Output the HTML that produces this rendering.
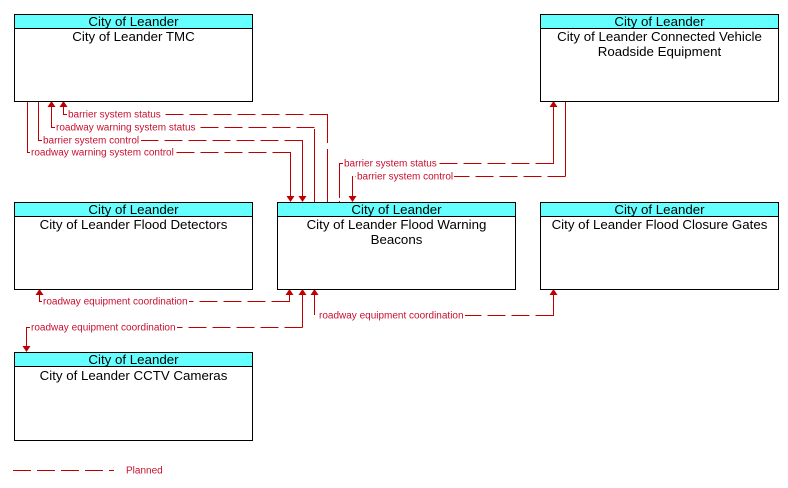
<!DOCTYPE html>
<html>
<head>
<meta charset="utf-8">
<style>
html,body{margin:0;padding:0;background:#fff;}
svg{display:block;}
.bx{fill:#fff;stroke:#000;stroke-width:1;}
.hd{fill:#66ffff;stroke:#000;stroke-width:1;}
.ht{font-family:"Liberation Sans",Arial,sans-serif;font-size:13.3px;fill:#000;text-anchor:middle;}
.ln{fill:none;stroke:#c00000;stroke-width:1;stroke-dasharray:18,6;}
.sl{fill:none;stroke:#c00000;stroke-width:1;}
.lb{font-family:"Liberation Sans",Arial,sans-serif;font-size:10px;fill:#c8102e;}
.ar{fill:#c00000;}
</style>
</head>
<body>
<svg width="788" height="488" viewBox="0 0 788 488" xmlns="http://www.w3.org/2000/svg">
<rect x="0" y="0" width="788" height="488" fill="#fff"/>

<g>
<!-- roadway warning system control -->
<path class="sl" d="M27.5,101 V152.5 H31"/>
<path class="ln" d="M290.5,152.5 H27.5"/>
<path class="sl" d="M290.5,152 V196"/>
<rect x="30" y="147" width="145" height="11" fill="#fff"/>
<text class="lb" x="31" y="155.5">roadway warning system control</text>
<polygon class="ar" points="286.5,196 294.5,196 290.5,202"/>

<!-- barrier system control -->
<path class="sl" d="M38.5,101 V140.5 H43"/>
<path class="ln" d="M302.5,140.5 H38.5"/>
<path class="sl" d="M302.5,140 V196"/>
<rect x="42" y="135" width="99" height="11" fill="#fff"/>
<text class="lb" x="43" y="143.5">barrier system control</text>
<polygon class="ar" points="298.5,196 306.5,196 302.5,202"/>

<!-- roadway warning system status -->
<path class="sl" d="M51.5,107 V127.5 H56"/>
<path class="ln" d="M314.5,127.5 H51.5"/>
<path class="sl" d="M314.5,129 V202"/>
<rect x="55" y="122" width="142" height="11" fill="#fff"/>
<text class="lb" x="56" y="130.5">roadway warning system status</text>
<polygon class="ar" points="47.5,107 55.5,107 51.5,101"/>

<!-- barrier system status -->
<path class="sl" d="M63.5,107 V114.5 H68"/>
<path class="ln" d="M327.5,114.5 H63.5"/>
<path class="sl" d="M327.5,114 V143 M327.5,149 V202"/>
<rect x="67" y="109" width="95" height="11" fill="#fff"/>
<text class="lb" x="68" y="117.5">barrier system status</text>
<polygon class="ar" points="59.5,107 67.5,107 63.5,101"/>

<!-- CV barrier system status -->
<path class="sl" d="M339.5,198 V163.5 H344 M339.5,201 V202"/>
<path class="ln" d="M553.5,163.5 H339.5"/>
<path class="sl" d="M553.5,164 V107"/>
<rect x="343" y="158" width="95" height="11" fill="#fff"/>
<text class="lb" x="344" y="166.5">barrier system status</text>
<polygon class="ar" points="549.5,107 557.5,107 553.5,101"/>

<!-- CV barrier system control -->
<path class="sl" d="M565.5,101 V176.5"/>
<path class="ln" d="M565.5,176.5 H352.5"/>
<path class="sl" d="M352.5,176 V196"/>
<rect x="356" y="171" width="98" height="11" fill="#fff"/>
<text class="lb" x="357" y="179.5">barrier system control</text>
<polygon class="ar" points="348.5,196 356.5,196 352.5,202"/>

<!-- Detectors coordination -->
<path class="sl" d="M39.5,295 V301.5 H43"/>
<path class="ln" d="M289.5,301.5 H39.5"/>
<path class="sl" d="M289.5,302 V295"/>
<rect x="42" y="296" width="147" height="11" fill="#fff"/>
<text class="lb" x="43" y="304.5">roadway equipment coordination</text>
<polygon class="ar" points="35.5,295 43.5,295 39.5,289"/>
<polygon class="ar" points="285.5,295 293.5,295 289.5,289"/>

<!-- CCTV coordination -->
<path class="sl" d="M302.5,295 V327.5"/>
<path class="ln" d="M302.5,327.5 H26.5"/>
<path class="sl" d="M26.5,327 V346 M26.5,327.5 H31"/>
<rect x="30" y="322" width="147" height="11" fill="#fff"/>
<text class="lb" x="31" y="330.5">roadway equipment coordination</text>
<polygon class="ar" points="298.5,295 306.5,295 302.5,289"/>
<polygon class="ar" points="22.5,346 30.5,346 26.5,352"/>

<!-- Gates coordination -->
<path class="sl" d="M314.5,295 V315"/>
<path class="ln" d="M553.5,315.5 H314.5"/>
<path class="sl" d="M553.5,316 V295"/>
<rect x="318" y="310" width="147" height="11" fill="#fff"/>
<text class="lb" x="319" y="318.5">roadway equipment coordination</text>
<polygon class="ar" points="310.5,295 318.5,295 314.5,289"/>
<polygon class="ar" points="549.5,295 557.5,295 553.5,289"/>
</g>

<!-- TMC -->
<rect class="bx" x="14.5" y="14.5" width="238" height="87"/>
<rect class="hd" x="14.5" y="14.5" width="238" height="14"/>
<text class="ht" x="133.5" y="26">City of Leander</text>
<text class="ht" x="133.5" y="41">City of Leander TMC</text>

<!-- CV Roadside -->
<rect class="bx" x="540.5" y="14.5" width="238" height="87"/>
<rect class="hd" x="540.5" y="14.5" width="238" height="14"/>
<text class="ht" x="659.5" y="26">City of Leander</text>
<text class="ht" x="659.5" y="41">City of Leander Connected Vehicle</text>
<text class="ht" x="659.5" y="56">Roadside Equipment</text>

<!-- Flood Detectors -->
<rect class="bx" x="14.5" y="202.5" width="238" height="87"/>
<rect class="hd" x="14.5" y="202.5" width="238" height="14"/>
<text class="ht" x="133.5" y="214">City of Leander</text>
<text class="ht" x="133.5" y="229">City of Leander Flood Detectors</text>

<!-- Flood Warning Beacons -->
<rect class="bx" x="277.5" y="202.5" width="238" height="87"/>
<rect class="hd" x="277.5" y="202.5" width="238" height="14"/>
<text class="ht" x="396.5" y="214">City of Leander</text>
<text class="ht" x="396.5" y="229">City of Leander Flood Warning</text>
<text class="ht" x="396.5" y="244">Beacons</text>

<!-- Flood Closure Gates -->
<rect class="bx" x="540.5" y="202.5" width="238" height="87"/>
<rect class="hd" x="540.5" y="202.5" width="238" height="14"/>
<text class="ht" x="659.5" y="214">City of Leander</text>
<text class="ht" x="659.5" y="229">City of Leander Flood Closure Gates</text>

<!-- CCTV -->
<rect class="bx" x="14.5" y="352.5" width="238" height="88"/>
<rect class="hd" x="14.5" y="352.5" width="238" height="14"/>
<text class="ht" x="133.5" y="364">City of Leander</text>
<text class="ht" x="133.5" y="380">City of Leander CCTV Cameras</text>

<!-- Legend -->
<path class="ln" d="M13,470.5 H114"/>
<text class="lb" x="126" y="473.5">Planned</text>
</svg>
</body>
</html>
